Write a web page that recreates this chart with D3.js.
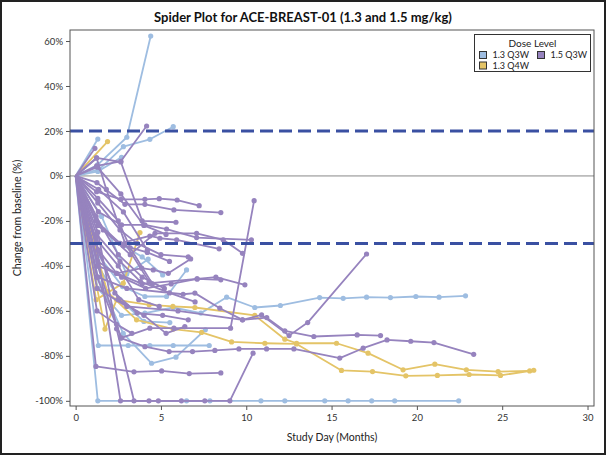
<!DOCTYPE html>
<html><head><meta charset="utf-8">
<script src="https://cdn.jsdelivr.net/npm/d3@7"></script>
<style>body{margin:0;background:#fff}svg{display:block}text{font-family:Lato,"Open Sans",sans-serif}</style>
</head><body><svg id="c" width="606" height="455"></svg>
<script>
// ---- data ----
const doseLevels = ["1.3 Q3W", "1.5 Q3W", "1.3 Q4W"];
const doseColors = ["#9ebde1", "#9683be", "#e4c467"];
const xTicks = [0, 5, 10, 15, 20, 25, 30];
const yTicks = [-100, -80, -60, -40, -20, 0, 20, 40, 60];
const refLines = [20, -30];

// patient dose group (index into doseLevels)
const patientDose = [
  0,0,0,0,0,0,0,0,0,0,0,0,
  2,2,2,2,
  1,1,1,1,1,1,1,1,1,1,1,1,1,1,1,1,1,1,1,1,1,1,1,1,1,1,1,1,1,1
];
// months on study at each assessment
const patientMonths = [
  [0,1.3,3.0,4.4],
  [0,1.3],
  [0,1.4,2.8,4.35,5.72],
  [0,1.3,2.69],
  [0,1.3,6.5,7.87,10.86,12.26,14.6,15.97,17.35,18.7,22.45],
  [0,1.33,3.08,4.35,5.72,7.83],
  [0,1.3,2.79,4.45,5.88,7.6],
  [0,1.3,2.69,4.06,5.72,7.34,8.85,10.5,12.0,14.3,15.68,17.05,18.45,19.94,21.3,22.85],
  [0,1.3,2.75,4.06,5.33,6.5],
  [0,1.52,2.99,4.25],
  [0,1.3,2.6,4.0,5.52],
  [0,1.3,2.6,3.9,5.1],
  [0,1.72,2.4,4.31,5.7,6.99,10.5,12.26,12.95,15.29,17.14,19.19,21.05,22.9,24.76,26.61],
  [0,1.85,3.57,5.72,7.38,9.14,11.09,12.95,15.58,17.4,19.35,21.2,23.06,24.9,26.85],
  [0,1.2,2.79,3.77],
  [0,1.87],
  [0,1.23,2.65,4.06,4.9,5.95,7.24],
  [0,1.25,2.89,4.06,5.76,8.51],
  [0,1.23,2.65,4.16],
  [0,1.13],
  [0,1.23,2.65,3.9,5.88],
  [0,1.33,2.69,4.06,5.33,7.09,10.3],
  [0,1.62,3.2,4.65,7.09,8.65,9.78],
  [0,1.2,2.6,4.35,4.94,5.92,8.41],
  [0,1.33,2.4,3.87,4.55,5.43,6.74],
  [0,1.3,2.4,3.9,7.12,8.22,9.92],
  [0,1.3,3.0,6.3,6.99,8.45,9.78,11.2,12.26,13.96,16.5,17.87],
  [0,1.25,3.0,6.0,9.78,10.9,12.51,13.6,17.05],
  [0,1.3,2.65,4.06,5.48,6.85,8.16,9.57,11.19,12.79,15.48,16.85,18.25,19.64,21.0,23.33],
  [0,1.25,2.69,4.35,5.76,9.08,10.46],
  [0,1.19,3.42,5.04,6.66,8.51],
  [0,1.2,2.63,4.3,6.2,7.57],
  [0,1.3,2.4,3.42,4.85,9.04,10.4],
  [0,1.2,2.5,3.9,5.2],
  [0,1.3,2.6,3.6,5.0,6.6],
  [0,1.2,2.5,3.7,4.9],
  [0,1.3,2.8,4.2,5.5],
  [0,1.23,1.8,2.9,4.3],
  [0,1.27,2.65,4.0,5.3],
  [0,1.3,2.7,4.1,5.6,7.12,8.51],
  [0,1.2,2.3,3.6,5.1,6.6],
  [0,1.3,2.5,3.2,4.5],
  [0,1.25,2.4,3.3],
  [0,1.23,2.6,3.8,5.5,7.0],
  [0,1.3,2.5,4.0,5.3,6.4],
  [0,1.35,2.8,4.2]
];
// % change from baseline at each assessment
const patientChanges = [
  [0,5,17.2,62.2],
  [0,16.4],
  [0,3,13,16.3,21.9],
  [0,2,8.3],
  [0,-100,-100,-100,-100,-100,-100,-100,-100,-100,-100],
  [0,-75.4,-75.4,-75.4,-75.4,-75.4],
  [0,-45,-70,-83.3,-80.6,-68.4],
  [0,-50,-62,-61,-58.5,-61,-53.9,-58.5,-57.6,-54.1,-54.4,-53.9,-54.1,-53.6,-53.9,-53.3],
  [0,-35,-49.2,-53.6,-53.6,-41.8],
  [0,-18,-43.7,-37],
  [0,-40,-55,-64.7,-65.2],
  [0,-22,-30,-36,-44],
  [0,-68.1,-55.1,-57.3,-58,-58.5,-62,-72.6,-74.4,-74.4,-78.8,-86.2,-83.7,-86.2,-87,-86.7],
  [0,-51.4,-64,-68.1,-69.6,-73.8,-74.4,-74.7,-86.5,-87,-88.9,-88.7,-88.3,-88.7,-86.4],
  [0,-55,-47.7,-25.2],
  [0,15.3],
  [0,-7,-10.4,-10.4,-10.1,-10.7,-13.2],
  [0,-3,-12.6,-12.6,-15.1,-16.3],
  [0,4.5,6.5,22.2],
  [0,12.3],
  [0,8,6.2,-20,-20.6],
  [0,-15.9,-21.8,-21.8,-23.6,-27.4,-28.4],
  [0,-24,-35,-25.5,-25.5,-28.4,-34.4],
  [0,-20,-30,-26.7,-27.7,-28.4,-32.4],
  [0,-32.9,-43.3,-41,-41.8,-43.3,-36.9],
  [0,-40,-43.3,-48,-45.8,-45,-48.4],
  [0,-45,-50,-52.6,-52.1,-58.8,-64,-63,-68.9,-71.4,-70.7,-71],
  [0,-50,-58,-60,-64,-61.8,-71,-65.2,-34.7],
  [0,-40,-72.1,-75.9,-78.1,-78.1,-77.6,-76.9,-76.9,-76.9,-81,-76.6,-72.9,-73.5,-74.1,-79.3],
  [0,-45,-72,-67.7,-67.7,-67.7,-11],
  [0,-84.7,-87.1,-86.7,-87.9,-87.6],
  [0,-30,-100,-100,-100,-100],
  [0,-25,-68,-100,-100,-100,-78.8],
  [0,-18,-35,-45,-50],
  [0,-12,-24,-30,-35,-36],
  [0,-28,-40,-55,-58],
  [0,-22,-31,-34,-38],
  [0,8,-6,-30,-47],
  [0,3.9,-8,-22,-26],
  [0,-38,-45,-50,-48,-45.8,-46.2],
  [0,-30,-52,-61,-62,-64],
  [0,-10,-20,-32,-48],
  [0,-60,-66,-70],
  [0,-26,-38,-47,-52,-56],
  [0,-33,-55,-62,-70,-67],
  [0,-6,-16,-33]
];

// ---- layout ----
const W = 606, H = 455;
const m = {l: 70, r: 12, t: 30, b: 49};
const svg = d3.select("#c");
svg.append("rect").attr("x", 1).attr("y", 1).attr("width", W - 2).attr("height", H - 2)
  .attr("fill", "#fff").attr("stroke", "#222").attr("stroke-width", 2);

const x = d3.scaleLinear().domain([-0.33, 30.38]).range([m.l, W - m.r]);
const y = d3.scaleLinear().domain([-102.3, 64.9]).range([H - m.b, m.t]);

// title
svg.append("text").attr("x", 303).attr("y", 22).attr("text-anchor", "middle")
  .attr("font-size", 13).attr("font-weight", 700).attr("fill", "#111")
  .text("Spider Plot for ACE-BREAST-01 (1.3 and 1.5 mg/kg)");

// axes
const xAxis = d3.axisBottom(x).tickValues(xTicks).tickSize(4).tickPadding(4).tickSizeOuter(0);
const yAxis = d3.axisLeft(y).tickValues(yTicks).tickSize(4).tickPadding(3).tickSizeOuter(0)
  .tickFormat(d => d + "%");
const gx = svg.append("g").attr("transform", `translate(0,${H - m.b})`).call(xAxis);
const gy = svg.append("g").attr("transform", `translate(${m.l},0)`).call(yAxis);
[gx, gy].forEach(g => {
  g.select(".domain").remove();
  g.selectAll(".tick line").attr("stroke", "#555");
  g.selectAll(".tick text").attr("font-size", 9.5).attr("fill", "#333");
});

svg.append("text").attr("x", (m.l + W - m.r) / 2).attr("y", 441).attr("text-anchor", "middle")
  .attr("font-size", 10.5).attr("fill", "#222").text("Study Day (Months)");
svg.append("text").attr("transform", `translate(21,${(m.t + H - m.b) / 2}) rotate(-90)`)
  .attr("text-anchor", "middle").attr("font-size", 10.5).attr("fill", "#222")
  .text("Change from baseline (%)");

// zero line
svg.append("line").attr("x1", m.l).attr("x2", W - m.r).attr("y1", y(0)).attr("y2", y(0))
  .attr("stroke", "#888").attr("stroke-width", 1);

// patients
const line = d3.line().x(d => x(d[0])).y(d => y(d[1]));
const order = [0, 2, 1];
const g = svg.append("g");
order.forEach(dz => {
  patientDose.forEach((dose, i) => {
    if (dose !== dz) return;
    const pts = patientMonths[i].map((mo, j) => [mo, patientChanges[i][j]]);
    const col = doseColors[dose];
    g.append("path").attr("d", line(pts)).attr("fill", "none")
      .attr("stroke", col).attr("stroke-width", 1.8).attr("stroke-linejoin", "round");
    g.selectAll(null).data(pts.slice(1)).enter().append("circle")
      .attr("cx", d => x(d[0])).attr("cy", d => y(d[1])).attr("r", 2.6).attr("fill", col);
  });
});

// reference lines
refLines.forEach(v => {
  svg.append("line").attr("x1", m.l).attr("x2", W - m.r).attr("y1", y(v)).attr("y2", y(v))
    .attr("stroke", "#3a50a2").attr("stroke-width", 3).attr("stroke-dasharray", "13,6");
});

// frame
svg.append("rect").attr("x", m.l).attr("y", m.t).attr("width", W - m.r - m.l)
  .attr("height", H - m.b - m.t).attr("fill", "none").attr("stroke", "#555").attr("stroke-width", 1);

// legend
const lg = svg.append("g");
lg.append("rect").attr("x", 474.5).attr("y", 34.5).attr("width", 116).attr("height", 37)
  .attr("fill", "#fff").attr("stroke", "#333").attr("stroke-width", 1);
lg.append("text").attr("x", 532.5).attr("y", 46.5).attr("text-anchor", "middle")
  .attr("font-size", 10).attr("fill", "#222").text("Dose Level");
const legPos = [[479.5, 55], [537.5, 55], [479.5, 65.5]];
doseLevels.forEach((lab, i) => {
  const [lx, ly] = legPos[i];
  lg.append("rect").attr("x", lx).attr("y", ly - 3.5).attr("width", 7).attr("height", 7)
    .attr("fill", doseColors[i]).attr("stroke", "#333").attr("stroke-width", 1);
  lg.append("text").attr("x", lx + 13).attr("y", ly + 3.3).attr("font-size", 9)
    .attr("fill", "#222").text(lab);
});
</script></body></html>
